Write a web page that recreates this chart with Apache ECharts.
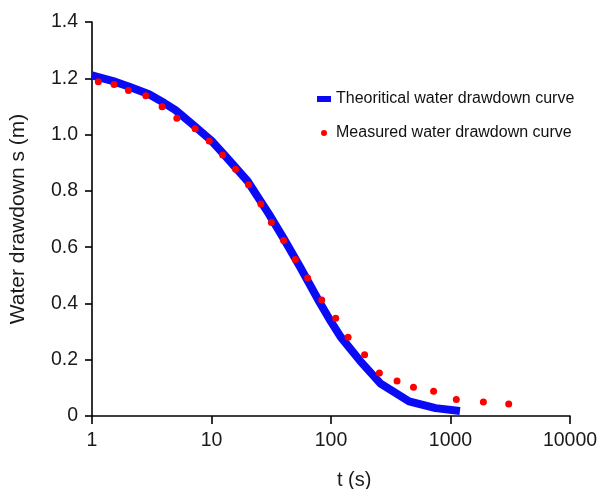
<!DOCTYPE html>
<html>
<head>
<meta charset="utf-8">
<script src="https://cdn.jsdelivr.net/npm/echarts@6/dist/echarts.min.js"></script>
<style>
html,body{margin:0;padding:0;background:#fff;}
#chart{width:608px;height:489px;}
</style>
</head>
<body>
<div id="chart"></div>
<script>
// Data
var theoT = [1, 1.5, 2, 3, 4, 5, 7, 10, 13, 20, 30, 40, 55, 80, 100, 120, 175, 260, 450, 750, 1200];
var theoS = [1.21, 1.19, 1.172, 1.143, 1.113, 1.087, 1.035, 0.978, 0.925, 0.835, 0.72, 0.632, 0.53, 0.405, 0.335, 0.282, 0.196, 0.115, 0.052, 0.028, 0.018];
var measT = [1.13, 1.53, 2.02, 2.82, 3.86, 5.13, 7.3, 9.57, 12.4, 15.9, 20.4, 25.9, 31.7, 40.1, 50.3, 63.8, 83.6, 109.5, 139, 191, 254, 357, 490, 722, 1118, 1884, 3069];
var measS = [1.188, 1.178, 1.157, 1.138, 1.099, 1.058, 1.021, 0.977, 0.927, 0.877, 0.822, 0.753, 0.688, 0.624, 0.556, 0.49, 0.412, 0.347, 0.28, 0.218, 0.153, 0.124, 0.102, 0.088, 0.059, 0.05, 0.043];
var xTicks = [1, 10, 100, 1000, 10000];
var yTicks = [0, 0.2, 0.4, 0.6, 0.8, 1.0, 1.2, 1.4];
var seriesNames = ['Theoritical water drawdown curve', 'Measured water drawdown curve'];
var xName = 't (s)';
var yName = 'Water drawdown s (m)';

var font = '"Liberation Sans", Arial, sans-serif';
var theoData = theoT.map(function (t, i) { return [t, theoS[i]]; });
var measData = measT.map(function (t, i) { return [t, measS[i]]; });

var chart = echarts.init(document.getElementById('chart'), null, {renderer: 'canvas'});
chart.setOption({
  animation: false,
  backgroundColor: '#ffffff',
  grid: {left: 92, right: 38, top: 22, bottom: 73, containLabel: false},
  legend: {
    orient: 'vertical',
    left: 317,
    top: 91,
    padding: 0,
    itemWidth: 14,
    itemHeight: 6,
    itemGap: 18,
    textStyle: {fontFamily: font, fontSize: 16, color: '#111'},
    data: [
      {name: seriesNames[0], icon: 'rect'},
      {name: seriesNames[1], icon: 'circle'}
    ]
  },
  xAxis: {
    type: 'log',
    logBase: 10,
    min: xTicks[0],
    max: xTicks[xTicks.length - 1],
    axisLine: {show: true, lineStyle: {color: '#000', width: 1.6}},
    axisTick: {show: true, length: 8, lineStyle: {color: '#000', width: 1.6}},
    minorTick: {show: false},
    splitLine: {show: false},
    axisLabel: {fontFamily: font, fontSize: 19.5, color: '#1a1a1a', margin: 15,
      formatter: function (v) { return String(Math.round(v)); }}
  },
  yAxis: {
    type: 'value',
    min: yTicks[0],
    max: yTicks[yTicks.length - 1],
    interval: 0.2,
    name: yName,
    nameLocation: 'middle',
    nameGap: 63,
    nameTextStyle: {fontFamily: font, fontSize: 21, color: '#1a1a1a'},
    axisLine: {show: true, lineStyle: {color: '#000', width: 1.6}},
    axisTick: {show: true, length: 7, lineStyle: {color: '#000', width: 1.6}},
    splitLine: {show: false},
    axisLabel: {fontFamily: font, fontSize: 19.5, color: '#1a1a1a', margin: 14,
      formatter: function (v) { return v === 0 ? '0' : v.toFixed(1); }}
  },
  graphic: [{
    type: 'text',
    left: 337,
    top: 470,
    style: {text: xName, font: '20px ' + font, fill: '#1a1a1a'}
  }],
  series: [
    {
      name: seriesNames[0],
      type: 'line',
      data: theoData,
      showSymbol: false,
      symbol: 'none',
      smooth: false,
      lineStyle: {color: '#0a0af5', width: 8, cap: 'butt', join: 'round'},
      itemStyle: {color: '#0a0af5'},
      z: 2
    },
    {
      name: seriesNames[1],
      type: 'scatter',
      data: measData,
      symbol: 'circle',
      symbolSize: 7,
      itemStyle: {color: '#ff0000', opacity: 1},
      z: 3
    }
  ]
});
</script>
</body>
</html>
